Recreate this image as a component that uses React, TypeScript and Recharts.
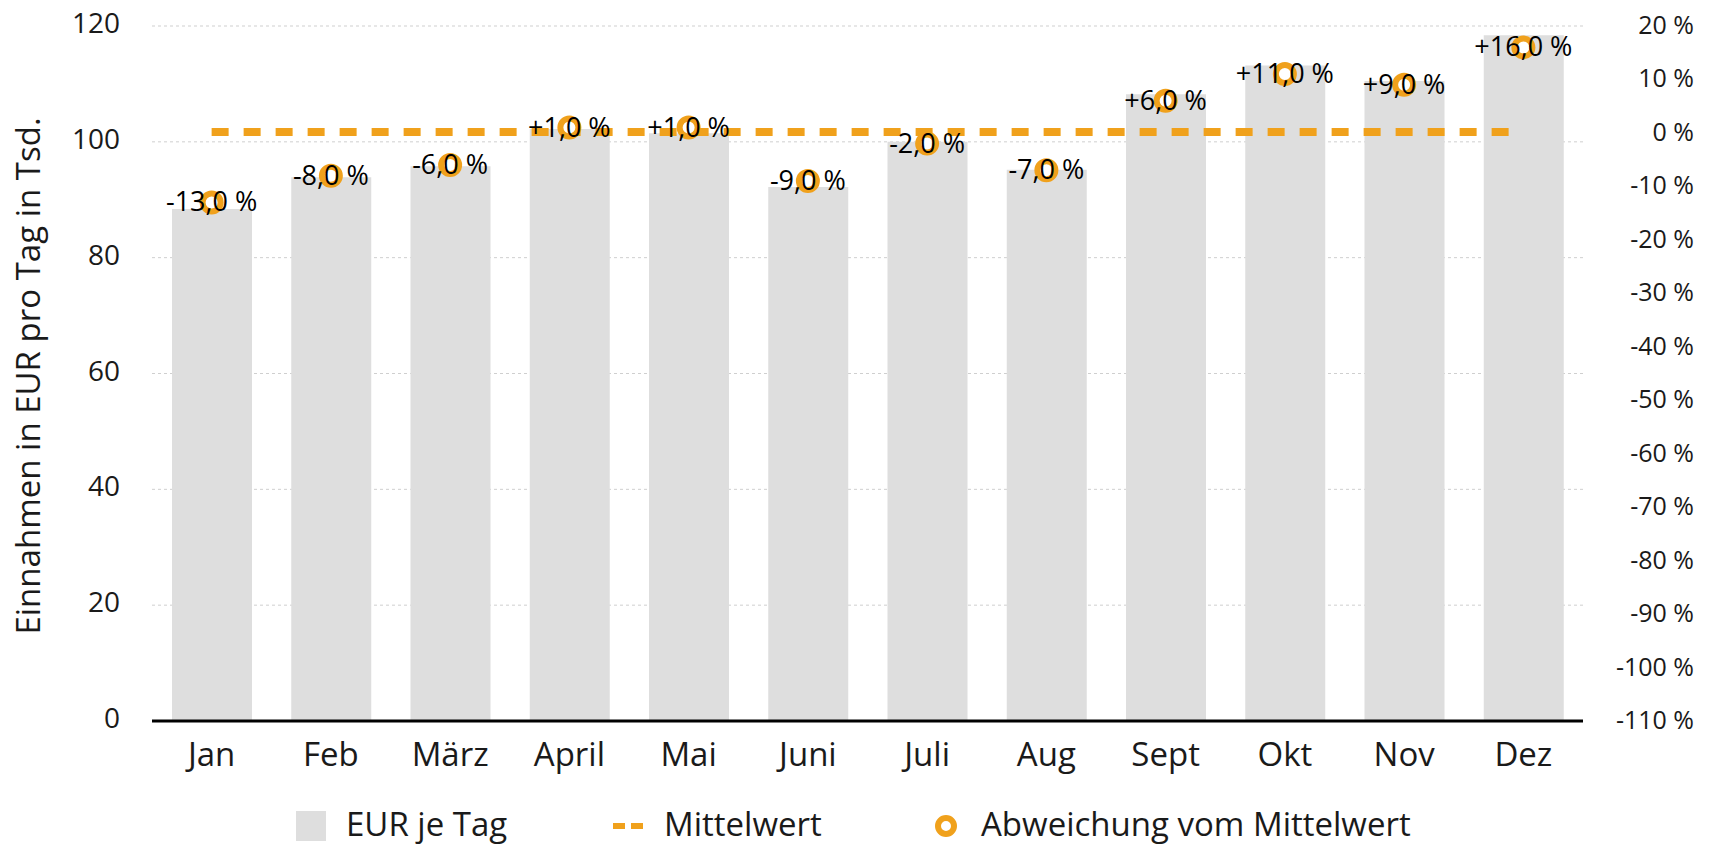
import {
  ComposedChart,
  Bar,
  Line,
  XAxis,
  YAxis,
  CartesianGrid,
  Legend,
  LabelList,
} from 'recharts';

const MONTHS = ['Jan', 'Feb', 'März', 'April', 'Mai', 'Juni', 'Juli', 'Aug', 'Sept', 'Okt', 'Nov', 'Dez'];
// Einnahmen je Tag in Tsd. EUR
const EUR_JE_TAG = [88.4, 93.9, 95.8, 102.2, 101.5, 92.2, 100.0, 95.2, 108.2, 113.2, 110.5, 118.4];
// Abweichung vom Mittelwert in %
const ABWEICHUNG = [-13, -8, -6, 1, 1, -9, -2, -7, 6, 11, 9, 16];
const MITTELWERT = 101.7;
const LEFT_TICKS = [0, 20, 40, 60, 80, 100, 120];
const RIGHT_TICKS = [-110, -100, -90, -80, -70, -60, -50, -40, -30, -20, -10, 0, 10, 20];

const FONT = '"Open Sans", sans-serif';
const COLORS = {
  bar: '#dedede',
  orange: '#f0a11c',
  text: '#1a1a1a',
  grid: '#cfcfcf',
} as const;

const data = MONTHS.map((month, i) => ({
  month,
  eur: EUR_JE_TAG[i],
  mean: MITTELWERT,
  pct: ABWEICHUNG[i],
}));

const fmtPct = (v: number) => `${v > 0 ? '+' : ''}${v.toFixed(1).replace('.', ',')} %`;

function LeftTick({ x, y, payload }: any) {
  return (
    <text x={x - 32} y={y + 7} textAnchor="end" fontSize={28} fontFamily={FONT} fill={COLORS.text}>
      {payload.value}
    </text>
  );
}

function RightTick({ x, y, payload }: any) {
  return (
    <text x={x + 111} y={y + 8} textAnchor="end" fontSize={25} fontFamily={FONT} fill={COLORS.text}>
      {payload.value} %
    </text>
  );
}

function MonthTick({ x, y, payload }: any) {
  return (
    <text x={x} y={y + 45} textAnchor="middle" fontSize={33} fontFamily={FONT} fill={COLORS.text}>
      {payload.value}
    </text>
  );
}

function PctLabel({ x, y, value }: any) {
  return (
    <text x={x} y={y + 9} textAnchor="middle" fontSize={27} fontFamily={FONT} fill="#000">
      {fmtPct(value)}
    </text>
  );
}

function YTitle() {
  return (
    <text
      x={40}
      y={376}
      transform="rotate(-90 40 376)"
      textAnchor="middle"
      fontSize={33}
      fontFamily={FONT}
      fill={COLORS.text}
    >
      Einnahmen in EUR pro Tag in Tsd.
    </text>
  );
}

function LegendContent() {
  const t = { fontSize: 33, fontFamily: FONT, fill: COLORS.text };
  return (
    <svg width={1712} height={44} style={{ overflow: 'visible', display: 'block' }}>
      <rect x={296} y={10} width={30} height={30} fill={COLORS.bar} />
      <text x={346} y={35} {...t}>EUR je Tag</text>
      <rect x={613} y={22} width={12} height={6} fill={COLORS.orange} />
      <rect x={631} y={22} width={12} height={6} fill={COLORS.orange} />
      <text x={664} y={35} {...t}>Mittelwert</text>
      <circle cx={946} cy={25} r={8} fill="#fff" stroke={COLORS.orange} strokeWidth={6} />
      <text x={981} y={35} {...t}>Abweichung vom Mittelwert</text>
    </svg>
  );
}

export default function App() {
  return (
    <div style={{ position: 'absolute', left: 0, top: 0 }}>
      <ComposedChart
        width={1712}
        height={845}
        data={data}
        margin={{ top: 26, right: 0, left: 0, bottom: 0 }}
      >
        <CartesianGrid
          yAxisId="left"
          vertical={false}
          stroke={COLORS.grid}
          strokeDasharray="3 3"
        />
        <XAxis
          dataKey="month"
          height={80}
          tickLine={false}
          tickSize={0}
          tickMargin={0}
          axisLine={{ stroke: '#000', strokeWidth: 3 }}
          tick={<MonthTick />}
          interval={0}
        />
        <YAxis
          yAxisId="left"
          width={152}
          domain={[0, 120]}
          ticks={LEFT_TICKS}
          axisLine={false}
          tickLine={false}
          tickSize={0}
          tickMargin={0}
          tick={<LeftTick />}
          label={{ content: <YTitle /> }}
        />
        <YAxis
          yAxisId="right"
          orientation="right"
          width={129}
          domain={[-110, 20]}
          ticks={RIGHT_TICKS}
          axisLine={false}
          tickLine={false}
          tickSize={0}
          tickMargin={0}
          tick={<RightTick />}
          interval={0}
        />
        <Legend
          verticalAlign="bottom"
          height={44}
          content={<LegendContent />}
          wrapperStyle={{ left: 0, top: 801, width: 1712, height: 44, overflow: 'visible' }}
        />
        <Bar yAxisId="left" dataKey="eur" name="EUR je Tag" fill={COLORS.bar} barSize={80} isAnimationActive={false} />
        <Line
          yAxisId="left"
          dataKey="mean"
          name="Mittelwert"
          stroke={COLORS.orange}
          strokeWidth={8}
          strokeDasharray="17 15"
          dot={false}
          activeDot={false}
          isAnimationActive={false}
        />
        <Line
          yAxisId="right"
          dataKey="pct"
          name="Abweichung vom Mittelwert"
          stroke="none"
          dot={{ r: 9, fill: '#fff', stroke: COLORS.orange, strokeWidth: 6 }}
          activeDot={false}
          isAnimationActive={false}
        >
          <LabelList dataKey="pct" content={<PctLabel />} />
        </Line>
      </ComposedChart>
    </div>
  );
}
